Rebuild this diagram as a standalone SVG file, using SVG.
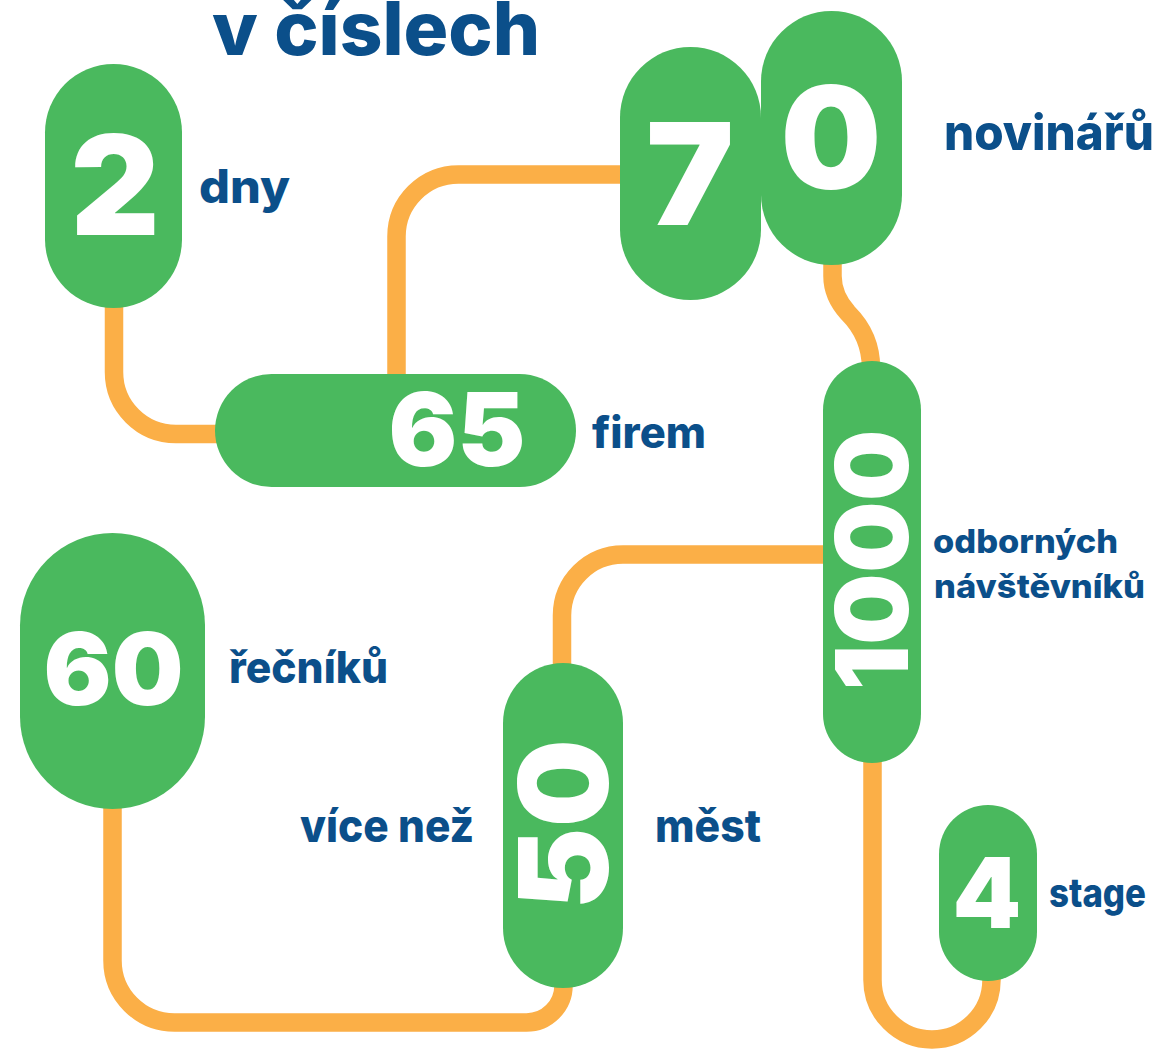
<svg xmlns="http://www.w3.org/2000/svg" width="1163" height="1049" viewBox="0 0 1163 1049">
<style>
.pill{fill:#4AB95E}
.con{fill:none;stroke:#FBAF47;stroke-width:18.5}
.num{font-family:Inter,"Noto Sans",sans-serif;font-weight:900;fill:#FFFFFF;text-anchor:middle}
.lbl{font-family:Inter,"Noto Sans",sans-serif;font-weight:800;fill:#0B4F8A}
</style>
<rect width="1163" height="1049" fill="#FFFFFF"/>
<text class="lbl" x="212" y="55" font-size="74" textLength="328" lengthAdjust="spacingAndGlyphs">v číslech</text>
<g id="connectors">
<path class="con" d="M114,300 V372 A62,62 0 0 0 176,434 H225"/>
<path class="con" d="M396.5,380 V236.5 A62,62 0 0 1 458.5,174.5 H628"/>
<path class="con" d="M832.5,258 V276 Q832.5,296 848,313 Q871,336 871,368"/>
<path class="con" d="M830,554.5 H623 A61,61 0 0 0 562,615.5 V672"/>
<path class="con" d="M112.5,800 V960.5 A62,62 0 0 0 174.5,1022.5 H526.5 A37,37 0 0 0 563.5,985.5 V978"/>
<path class="con" d="M872.5,755 V980 A59.5,59.5 0 0 0 991.5,980 V972"/>
</g>
<g id="node-2">
<rect class="pill" x="45" y="64" width="137" height="244" rx="68.5"/>
<text class="num" x="115" y="235" font-size="138">2</text>
<text class="lbl" x="199" y="203" font-size="46" textLength="91" lengthAdjust="spacingAndGlyphs">dny</text>
</g>
<g id="node-70">
<rect class="pill" x="620" y="47" width="141" height="253" rx="70.5"/>
<rect class="pill" x="761" y="11" width="141" height="254" rx="70.5"/>
<text class="num" x="690" y="225" font-size="142" textLength="88" lengthAdjust="spacingAndGlyphs">7</text>
<text class="num" x="831" y="189" font-size="142">0</text>
<text class="lbl" x="944" y="150" font-size="49" textLength="210" lengthAdjust="spacingAndGlyphs">novinářů</text>
</g>
<g id="node-65">
<rect class="pill" x="215" y="374" width="361" height="113" rx="56.5"/>
<text class="num" x="457" y="466" font-size="102">65</text>
<text class="lbl" x="592" y="448" font-size="43" textLength="114" lengthAdjust="spacingAndGlyphs">firem</text>
</g>
<g id="node-1000">
<rect class="pill" x="823" y="361" width="98" height="402" rx="49"/>
<text class="num" transform="translate(908,560) rotate(-90)" font-size="101">1000</text>
<text class="lbl" x="933" y="553" font-size="33" textLength="185" lengthAdjust="spacingAndGlyphs">odborných</text>
<text class="lbl" x="934" y="598" font-size="33" textLength="211" lengthAdjust="spacingAndGlyphs">návštěvníků</text>
</g>
<g id="node-60">
<rect class="pill" x="20" y="533" width="185" height="276" rx="92.5"/>
<text class="num" x="113.5" y="705" font-size="101">60</text>
<text class="lbl" x="229" y="683" font-size="44" textLength="159" lengthAdjust="spacingAndGlyphs">řečníků</text>
</g>
<g id="node-50">
<rect class="pill" x="503" y="663" width="120" height="325" rx="60"/>
<text class="num" transform="translate(608,824.5) rotate(-90)" font-size="124">50</text>
<text class="lbl" x="300" y="842" font-size="45" textLength="174" lengthAdjust="spacingAndGlyphs">více než</text>
<text class="lbl" x="655" y="842" font-size="45" textLength="106" lengthAdjust="spacingAndGlyphs">měst</text>
</g>
<g id="node-4">
<rect class="pill" x="939" y="805" width="98" height="176" rx="49"/>
<text class="num" x="987" y="928" font-size="98">4</text>
<text class="lbl" x="1049" y="907" font-size="40" textLength="97" lengthAdjust="spacingAndGlyphs">stage</text>
</g>
</svg>
